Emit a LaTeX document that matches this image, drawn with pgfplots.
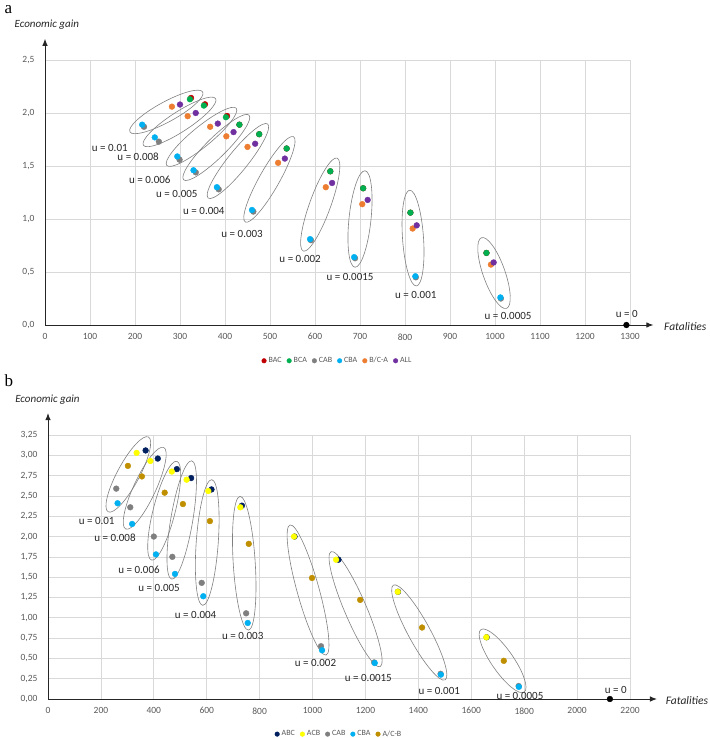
\documentclass[border=0pt]{standalone}
\usepackage{fontspec}
\setmainfont{Carlito}
\newfontfamily\seriffont{Liberation Serif}
\usepackage{pgfplots}
\usepackage{pgfplotstable}
\pgfplotsset{compat=1.18}
\usetikzlibrary{shapes.geometric,arrows.meta}

\definecolor{cBAC}{HTML}{C00000}
\definecolor{cBCA}{HTML}{00B050}
\definecolor{cCAB}{HTML}{7F7F7F}
\definecolor{cCBA}{HTML}{00B0F0}
\definecolor{cBCmA}{HTML}{ED7D31}
\definecolor{cALL}{HTML}{7030A0}
\definecolor{cABC}{HTML}{002060}
\definecolor{cACB}{HTML}{FFFF00}
\definecolor{cACmB}{HTML}{BF8F00}
\definecolor{gridgray}{HTML}{D9D9D9}
\definecolor{tickgray}{HTML}{595959}
\definecolor{ellgray}{HTML}{808080}
\definecolor{labgray}{HTML}{262626}

% ---------- panel a data ----------
\pgfplotstableread{
x y
324.5 2.142
355.5 2.082
404.5 1.972
432 1.89
476 1.80
537 1.665
634 1.45
707 1.29
812 1.06
981 0.68
}\aBAC
\pgfplotstableread{
x y
322 2.13
353 2.07
402 1.96
432 1.89
476 1.80
537 1.665
634 1.45
707 1.29
812 1.06
981 0.68
}\aBCA
\pgfplotstableread{
x y
220 1.87
253 1.73
299 1.56
335 1.44
386 1.28
463 1.07
591 0.80
689 0.63
824 0.45
1013 0.25
}\aCAB
\pgfplotstableread{
x y
216 1.89
244 1.77
294 1.59
330 1.46
382 1.30
460 1.085
589 0.81
687 0.64
823 0.46
1012 0.26
}\aCBA
\pgfplotstableread{
x y
282 2.06
317 1.97
367 1.87
403 1.78
450 1.68
518 1.53
624 1.30
705 1.14
817 0.91
991 0.57
}\aBCmA
\pgfplotstableread{
x y
300 2.08
335 2.00
384 1.90
419 1.82
467 1.71
533 1.57
638 1.34
717 1.18
826 0.94
997 0.59
}\aALL

% ---------- panel b data ----------
\pgfplotstableread{
x y
369 3.06
415 2.96
487 2.83
541 2.72
618 2.58
733 2.38
932 2.00
1098 1.715
1323 1.32
1658 0.76
}\bABC
\pgfplotstableread{
x y
335 3.03
387 2.93
468 2.80
524 2.70
606 2.56
727 2.36
930 2.00
1089 1.715
1322 1.32
1657 0.76
}\bACB
\pgfplotstableread{
x y
258 2.59
311 2.36
400 2.00
470 1.75
581 1.43
749 1.055
1032 0.65
1233 0.45
1484 0.31
1779 0.16
}\bCAB
\pgfplotstableread{
x y
263 2.41
318 2.155
408 1.78
480 1.54
587 1.265
755 0.936
1036 0.60
1235 0.443
1485 0.30
1780 0.15
}\bCBA
\pgfplotstableread{
x y
302 2.87
355 2.74
441 2.54
510 2.40
612 2.19
759 1.91
998 1.49
1180 1.22
1414 0.88
1723 0.47
}\bACmB

\pgfplotsset{
  chart/.style={
    scale only axis, clip=false,
    axis line style={draw=none},
    major tick length=0pt,
    grid=major,
    major grid style={draw=gridgray, line width=0.7pt},
    tick label style={font=\fontsize{9.5}{10}\selectfont, text=tickgray},
    /pgf/number format/assume math mode=true,
    xticklabel style={/pgf/number format/1000 sep={}, yshift=-5pt},
    yticklabel style={xshift=-7pt},
    legend style={draw=none, fill=none, legend columns=-1,
      font=\fontsize{8}{9}\selectfont, text=tickgray,
      /tikz/every even column/.append style={column sep=3pt}},
    legend image code/.code={\fill (0.12cm,0cm) circle (2.3pt);},
  },
  dot/.style={only marks, mark=*, mark size=2.9pt, mark options={draw=none, fill=#1}, color=#1},
}
\tikzset{
  ell/.style={draw=ellgray, line width=0.6pt, ellipse, inner sep=0pt},
  ulab/.style={font=\fontsize{11}{12}\selectfont, text=labgray},
  axarrow/.style={line width=0.9pt, black!85, -{Latex[length=7pt,width=5.5pt]}},
}

\begin{document}
\begin{tikzpicture}
\useasboundingbox (0pt,0pt) rectangle (709pt,-738pt);

\node[anchor=base west, font=\seriffont\fontsize{17}{20}\selectfont] at (1pt,-14pt) {a};
\node[anchor=base west, font=\seriffont\fontsize{17}{20}\selectfont] at (1pt,-386pt) {b};

% ================= panel a =================
\begin{axis}[chart,
  at={(45pt,-325pt)}, anchor=south west,
  width=585pt, height=265pt,
  xmin=0, xmax=1300, ymin=0, ymax=2.5,
  xtick={0,100,...,1300},
  ytick={0,0.5,...,2.5},
  yticklabel style={/pgf/number format/.cd, fixed, fixed zerofill, precision=1, use comma},
  legend style={at={(0.5,-0.135)}, anchor=center},
]
\addplot[dot=cBAC] table {\aBAC}; \addlegendentry{BAC}
\addplot[dot=cBCA] table {\aBCA}; \addlegendentry{BCA}
\addplot[dot=cCAB] table {\aCAB}; \addlegendentry{CAB}
\addplot[dot=cCBA] table {\aCBA}; \addlegendentry{CBA}
\addplot[dot=cBCmA] table {\aBCmA}; \addlegendentry{B/C-A}
\addplot[dot=cALL] table {\aALL}; \addlegendentry{ALL}
\addplot[dot=black, forget plot] coordinates {(1292,0)};

\draw[axarrow] (axis cs:0,0) -- (axis cs:1352,0);
\draw[axarrow] (axis cs:0,0) -- (axis cs:0,2.70);
\node[font=\itshape\fontsize{11}{12}\selectfont, text=labgray] at (axis cs:4,2.83) {Economic gain};
\node[anchor=west, font=\itshape\fontsize{11.5}{12}\selectfont, text=labgray] at (axis cs:1368,-0.01) {Fatalities};

\node[ell, minimum width=83pt, minimum height=20pt, rotate=28.7] at (axis cs:269.6,2.01) {};
\node[ell, minimum width=86pt, minimum height=20pt, rotate=32.9] at (axis cs:298.9,1.916) {};
\node[ell, minimum width=90pt, minimum height=20pt, rotate=39.4] at (axis cs:347.8,1.775) {};
\node[ell, minimum width=92pt, minimum height=20pt, rotate=44.6] at (axis cs:380.7,1.675) {};
\node[ell, minimum width=95pt, minimum height=20pt, rotate=51.2] at (axis cs:428.7,1.547) {};
\node[ell, minimum width=98pt, minimum height=20pt, rotate=60.5] at (axis cs:498.7,1.374) {};
\node[ell, minimum width=99pt, minimum height=21pt, rotate=70] at (axis cs:611.6,1.136) {};
\node[ell, minimum width=97pt, minimum height=22pt, rotate=84] at (axis cs:700,1.0) {};
\node[ell, minimum width=96pt, minimum height=21pt, rotate=94] at (axis cs:817.8,0.82) {};
\node[ell, minimum width=75pt, minimum height=22pt, rotate=109.5] at (axis cs:997.8,0.49) {};

\node[ulab] at (axis cs:144,1.67) {u = 0.01};
\node[ulab] at (axis cs:207,1.59) {u = 0.008};
\node[ulab] at (axis cs:233,1.37) {u = 0.006};
\node[ulab] at (axis cs:293,1.24) {u = 0.005};
\node[ulab] at (axis cs:353,1.08) {u = 0.004};
\node[ulab] at (axis cs:438,0.86) {u = 0.003};
\node[ulab] at (axis cs:567,0.62) {u = 0.002};
\node[ulab] at (axis cs:678,0.45) {u = 0.0015};
\node[ulab] at (axis cs:824,0.28) {u = 0.001};
\node[ulab] at (axis cs:1029,0.085) {u = 0.0005};
\node[ulab] at (axis cs:1293,0.10) {u = 0};
\end{axis}

% ================= panel b =================
\begin{axis}[chart,
  at={(48pt,-699pt)}, anchor=south west,
  width=582pt, height=264pt,
  xmin=0, xmax=2200, ymin=0, ymax=3.25,
  xtick={0,200,...,2200},
  ytick={0,0.25,...,3.25},
  yticklabel style={/pgf/number format/.cd, fixed, fixed zerofill, precision=2, use comma},
  legend style={at={(0.5,-0.133)}, anchor=center},
]
\addplot[dot=cABC] table {\bABC}; \addlegendentry{ABC}
\addplot[dot=cACB] table {\bACB}; \addlegendentry{ACB}
\addplot[dot=cCAB] table {\bCAB}; \addlegendentry{CAB}
\addplot[dot=cCBA] table {\bCBA}; \addlegendentry{CBA}
\addplot[dot=cACmB] table {\bACmB}; \addlegendentry{A/C-B}
\addplot[dot=black, forget plot] coordinates {(2124,0)};

\draw[axarrow] (axis cs:0,0) -- (axis cs:2302,0);
\draw[axarrow] (axis cs:0,0) -- (axis cs:0,3.52);
\node[font=\itshape\fontsize{11}{12}\selectfont, text=labgray] at (axis cs:-2,3.68) {Economic gain};
\node[anchor=west, font=\itshape\fontsize{11.5}{12}\selectfont, text=labgray] at (axis cs:2322,-0.02) {Fatalities};

\node[ell, minimum width=85pt, minimum height=22pt, rotate=61.7] at (axis cs:303.6,2.765) {};
\node[ell, minimum width=90pt, minimum height=22pt, rotate=65] at (axis cs:365.6,2.595) {};
\node[ell, minimum width=102pt, minimum height=22pt, rotate=75.7] at (axis cs:439.3,2.318) {};
\node[ell, minimum width=120pt, minimum height=22pt, rotate=80.4] at (axis cs:505.5,2.204) {};
\node[ell, minimum width=126pt, minimum height=22pt, rotate=85.9] at (axis cs:601.9,1.927) {};
\node[ell, minimum width=134pt, minimum height=22pt, rotate=93.6] at (axis cs:741.8,1.671) {};
\node[ell, minimum width=135pt, minimum height=22pt, rotate=105.5] at (axis cs:983,1.342) {};
\node[ell, minimum width=125pt, minimum height=22pt, rotate=113.1] at (axis cs:1162.6,1.106) {};
\node[ell, minimum width=108pt, minimum height=22pt, rotate=118.6] at (axis cs:1403.4,0.819) {};
\node[ell, minimum width=76pt, minimum height=22pt, rotate=124.7] at (axis cs:1718.3,0.470) {};

\node[ulab] at (axis cs:184,2.19) {u = 0.01};
\node[ulab] at (axis cs:253,1.98) {u = 0.008};
\node[ulab] at (axis cs:344,1.59) {u = 0.006};
\node[ulab] at (axis cs:420,1.37) {u = 0.005};
\node[ulab] at (axis cs:558,1.04) {u = 0.004};
\node[ulab] at (axis cs:736,0.77) {u = 0.003};
\node[ulab] at (axis cs:1011,0.44) {u = 0.002};
\node[ulab] at (axis cs:1211,0.255) {u = 0.0015};
\node[ulab] at (axis cs:1479,0.10) {u = 0.001};
\node[ulab] at (axis cs:1784,0.04) {u = 0.0005};
\node[ulab] at (axis cs:2146,0.11) {u = 0};
\end{axis}
\end{tikzpicture}
\end{document}
